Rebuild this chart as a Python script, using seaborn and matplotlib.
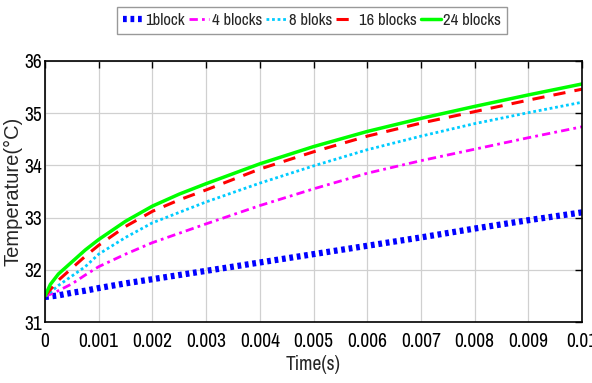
import matplotlib
matplotlib.use("Agg")
import matplotlib.pyplot as plt
import seaborn as sns
import pandas as pd
from matplotlib.ticker import FixedLocator, FixedFormatter

t = [0, 0.0001, 0.00025, 0.0005, 0.00075, 0.001, 0.0015, 0.002, 0.0025, 0.003,
     0.004, 0.005, 0.006, 0.007, 0.008, 0.009, 0.01]
blk1 = [31.48, 31.49, 31.51, 31.56, 31.60, 31.65, 31.74, 31.82, 31.90, 31.98,
        32.14, 32.30, 32.46, 32.62, 32.79, 32.95, 33.10]
blk4 = [31.50, 31.53, 31.60, 31.73, 31.90, 32.06, 32.30, 32.52, 32.70, 32.88,
        33.23, 33.55, 33.85, 34.09, 34.31, 34.53, 34.74]
blk8 = [31.50, 31.57, 31.70, 31.88, 32.06, 32.30, 32.62, 32.90, 33.10, 33.30,
        33.66, 33.99, 34.30, 34.56, 34.80, 35.01, 35.21]
blk16 = [31.50, 31.62, 31.80, 32.03, 32.26, 32.47, 32.83, 33.12, 33.34, 33.53,
         33.93, 34.26, 34.56, 34.81, 35.03, 35.25, 35.46]
blk24 = [31.50, 31.72, 31.92, 32.15, 32.38, 32.58, 32.93, 33.22, 33.45, 33.65,
         34.03, 34.36, 34.65, 34.90, 35.13, 35.35, 35.56]
labels = ["1block", "4 blocks", "8 bloks", "16 blocks", "24 blocks"]
xtick_vals = [0, 0.001, 0.002, 0.003, 0.004, 0.005, 0.006, 0.007, 0.008, 0.009, 0.01]
xtick_labels = ["0", "0.001", "0.002", "0.003", "0.004", "0.005", "0.006", "0.007", "0.008", "0.009", "0.01"]
ytick_vals = [31, 32, 33, 34, 35, 36]

sns.set_theme(style="whitegrid")
NARROW = ['Liberation Sans Narrow', 'Archivo Narrow', 'DejaVu Sans']
REGULAR = ['Liberation Sans', 'DejaVu Sans']
plt.rcParams['font.family'] = NARROW

fig = plt.figure(figsize=(5.92, 3.83), dpi=100)
ax = fig.add_axes([45/592, 61/383, 537/592, 261/383])
ax.set_facecolor("white")

series = [blk1, blk4, blk8, blk16, blk24]
colors = ["#0000ff", "#ff00ff", "#00ccff", "#ff0000", "#00ff00"]
styles = [(0, (0.6, 0.6)), (0, (3, 1.5, 1, 1.5)), (0, (1, 1)), (0, (4, 3)), "-"]
widths = [4.5, 2.0, 2.0, 2.2, 2.5]

for vals, lab, c, ls, lw in zip(series, labels, colors, styles, widths):
    df = pd.DataFrame({"t": t, "T": vals})
    sns.lineplot(data=df, x="t", y="T", ax=ax, color=c, linestyle=ls, linewidth=lw, label=lab)

ax.set_xlim(0, 0.01)
ax.set_ylim(31, 36)
ax.xaxis.set_major_locator(FixedLocator(xtick_vals))
ax.xaxis.set_major_formatter(FixedFormatter(xtick_labels))
ax.set_yticks(ytick_vals)
ax.tick_params(axis="both", direction="in", length=5, width=1, colors="black",
               labelsize=14, top=True, right=True)
ax.tick_params(axis="x", pad=7)
ax.tick_params(axis="y", pad=2)
ax.grid(True, color="#d0d0d0", linewidth=0.9)
for s in ax.spines.values():
    s.set_edgecolor("black")
    s.set_linewidth(1.2)

ax.set_xlabel("Time(s)", fontsize=14, labelpad=3)
ax.set_ylabel("Temperature(°C)", fontsize=14.5, family=REGULAR)
ax.yaxis.set_label_coords(-0.041, 0.5)

h, l = ax.get_legend_handles_labels()
ax.get_legend().remove()
leg = fig.legend(h, l, loc="upper center", bbox_to_anchor=(312/592, 1 - 7/383), ncol=5,
                 prop={'family': NARROW, 'size': 12}, frameon=True, fancybox=False, framealpha=1,
                 edgecolor="#999999", handlelength=1.2, handletextpad=0.15,
                 columnspacing=0.25, borderpad=0.35, borderaxespad=0)
leg.get_frame().set_linewidth(1.0)

fig.savefig("out.png", dpi=100)
